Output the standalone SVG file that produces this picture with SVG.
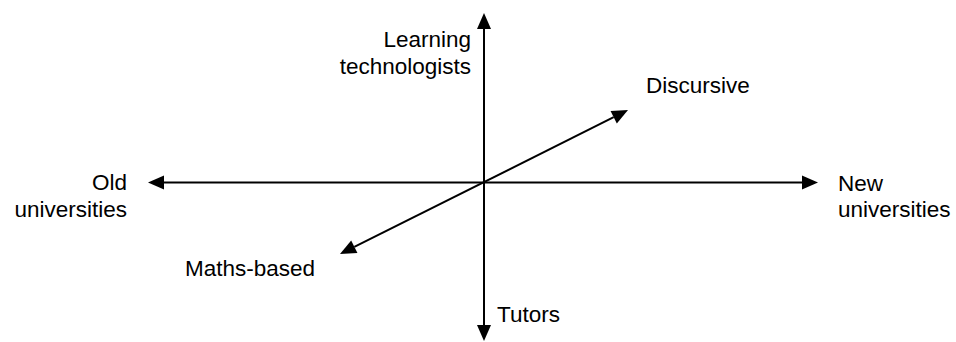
<svg xmlns="http://www.w3.org/2000/svg" width="956" height="342" viewBox="0 0 956 342">
  <style>
    .lbl { font-family: "Liberation Sans", Arial, sans-serif; font-size: 22.5px; fill: #000; }
    .ax { stroke: #000; stroke-width: 2; fill: none; marker-start: url(#ah); marker-end: url(#ah); }
  </style>
  <defs>
    <marker id="ah" markerUnits="userSpaceOnUse" markerWidth="16" markerHeight="14" refX="0" refY="7" orient="auto-start-reverse" viewBox="0 0 16 14" overflow="visible">
      <path d="M0,0 L16,7 L0,14 Z" fill="#000"/>
    </marker>
  </defs>
  <rect width="956" height="342" fill="#fff"/>
  <g id="connectors">
    <line class="ax" x1="484" y1="325" x2="484" y2="29"/>
    <line class="ax" x1="164" y1="182.5" x2="802" y2="182.5"/>
    <line class="ax" x1="354.3" y1="246.8" x2="613.7" y2="117.2"/>
  </g>
  <g id="learning-technologists">
    <text class="lbl" x="471" y="47" text-anchor="end">Learning</text>
    <text class="lbl" x="471" y="74" text-anchor="end">technologists</text>
  </g>
  <g id="tutors">
    <text class="lbl" x="497" y="322">Tutors</text>
  </g>
  <g id="old-universities">
    <text class="lbl" x="127" y="190" text-anchor="end">Old</text>
    <text class="lbl" x="127" y="217" text-anchor="end">universities</text>
  </g>
  <g id="new-universities">
    <text class="lbl" x="838" y="191">New</text>
    <text class="lbl" x="838" y="217">universities</text>
  </g>
  <g id="discursive">
    <text class="lbl" x="646" y="93">Discursive</text>
  </g>
  <g id="maths-based">
    <text class="lbl" x="185" y="276">Maths-based</text>
  </g>
</svg>
